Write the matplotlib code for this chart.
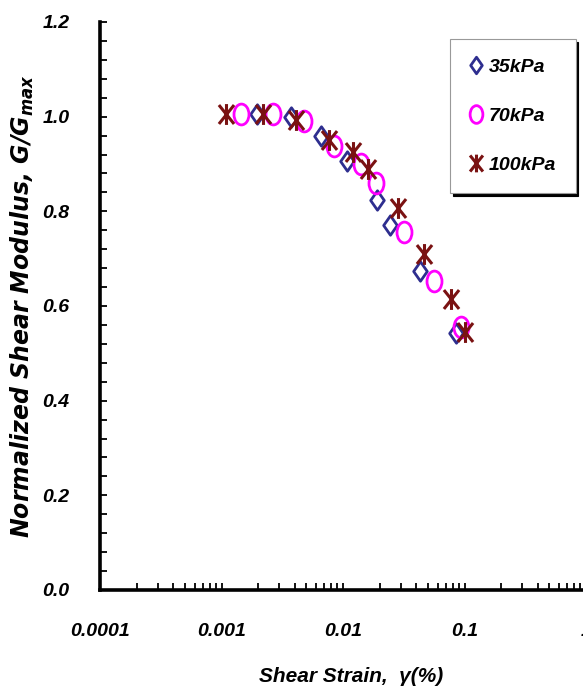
import matplotlib
matplotlib.use('Agg')
import matplotlib.pyplot as plt
from matplotlib.path import Path
from matplotlib.transforms import Affine2D
from matplotlib.ticker import FixedLocator, MultipleLocator, NullFormatter, FixedFormatter

# ---- data ----
strain_35 = [0.00195, 0.00372, 0.00658, 0.0108, 0.0191, 0.0245, 0.0433, 0.0859]
gg_35 = [1.005, 1.0, 0.960, 0.907, 0.823, 0.772, 0.674, 0.543]

strain_70 = [0.00144, 0.00264, 0.00476, 0.00843, 0.0141, 0.0188, 0.0319, 0.0565, 0.0944]
gg_70 = [1.005, 1.005, 0.990, 0.939, 0.901, 0.859, 0.757, 0.653, 0.555]

strain_100 = [0.00108, 0.00218, 0.00409, 0.00766, 0.0121, 0.0161, 0.0285, 0.0467, 0.0781, 0.100]
gg_100 = [1.005, 1.005, 0.992, 0.950, 0.926, 0.890, 0.806, 0.710, 0.615, 0.545]

series_labels = ['35kPa', '70kPa', '100kPa']
x_tick_vals = [1e-4, 1e-3, 1e-2, 1e-1, 1]
x_tick_labels = ['0.0001', '0.001', '0.01', '0.1', '1']
y_tick_vals = [0.0, 0.2, 0.4, 0.6, 0.8, 1.0, 1.2]
y_tick_labels = ['0.0', '0.2', '0.4', '0.6', '0.8', '1.0', '1.2']

plt.rcParams['font.family'] = ['Liberation Sans', 'DejaVu Sans']
plt.rcParams['font.weight'] = 'bold'
plt.rcParams['font.style'] = 'italic'

# marker shapes (slightly taller than wide, like the reference)
star = Path([(-0.8, -1), (0.8, 1), (-0.8, 1), (0.8, -1), (0, -1.1), (0, 1.1)],
            [Path.MOVETO, Path.LINETO, Path.MOVETO, Path.LINETO, Path.MOVETO, Path.LINETO])
ellipse = Path.unit_circle().transformed(Affine2D().scale(0.72, 1.0))
diamond = Path([(0, 1), (0.7, 0), (0, -1), (-0.7, 0), (0, 1)],
               [Path.MOVETO, Path.LINETO, Path.LINETO, Path.LINETO, Path.CLOSEPOLY])

W, H = 583, 695
fig = plt.figure(figsize=(W / 100, H / 100), dpi=100)
ax = fig.add_axes([100 / W, 105 / H, 486 / W, 568 / H])

ax.plot(strain_35, gg_35, ls='none', marker=diamond, ms=14, mfc='none', mec='#2E2E8F', mew=2.0,
        label=series_labels[0])
ax.plot(strain_70, gg_70, ls='none', marker=ellipse, ms=15, mfc='none', mec='#FF00FF', mew=2.0,
        label=series_labels[1])
ax.plot(strain_100, gg_100, ls='none', marker=star, ms=15, mfc='none', mec='#7A1212', mew=2.2,
        label=series_labels[2])

ax.set_xscale('log')
ax.set_xlim(1e-4, 1)
ax.set_ylim(0, 1.2)
ax.xaxis.set_major_locator(FixedLocator(x_tick_vals))
ax.xaxis.set_major_formatter(FixedFormatter(x_tick_labels))
minors = [m * 10.0 ** e for e in range(-4, 0) for m in range(2, 10)]
ax.xaxis.set_minor_locator(FixedLocator(minors))
ax.xaxis.set_minor_formatter(NullFormatter())
ax.yaxis.set_major_locator(FixedLocator(y_tick_vals))
ax.yaxis.set_major_formatter(FixedFormatter(y_tick_labels))
ax.yaxis.set_minor_locator(MultipleLocator(0.04))

for s in ['top', 'right']:
    ax.spines[s].set_visible(False)
for s in ['left', 'bottom']:
    ax.spines[s].set_linewidth(2.6)

ax.tick_params(axis='both', which='both', direction='in', length=5, width=1.3, labelsize=14)
ax.tick_params(axis='x', which='both', pad=24)
ax.tick_params(axis='y', which='both', pad=22)

leg = ax.legend(loc='upper left', bbox_to_anchor=(450 / W, 1 - 39 / H), bbox_transform=fig.transFigure,
                fontsize=14, frameon=True, fancybox=False, edgecolor='#999999', framealpha=1,
                shadow={'color': 'black', 'alpha': 1}, handlelength=0.7, handletextpad=0.3,
                labelspacing=1.6, borderpad=1.0, borderaxespad=0, markerscale=0.85)
leg.get_frame().set_linewidth(0.8)

fig.text(22 / W, 1 - 306 / H, r'Normalized Shear Modulus, G/G$_{\mathregular{max}}$', rotation=90,
         family='DejaVu Sans', weight='bold', style='italic', fontsize=17, ha='center', va='center')
fig.text(351 / W, 1 - 677 / H, 'Shear Strain,  γ(%)', fontsize=15, ha='center', va='center')

fig.savefig('out.png', dpi=100)
